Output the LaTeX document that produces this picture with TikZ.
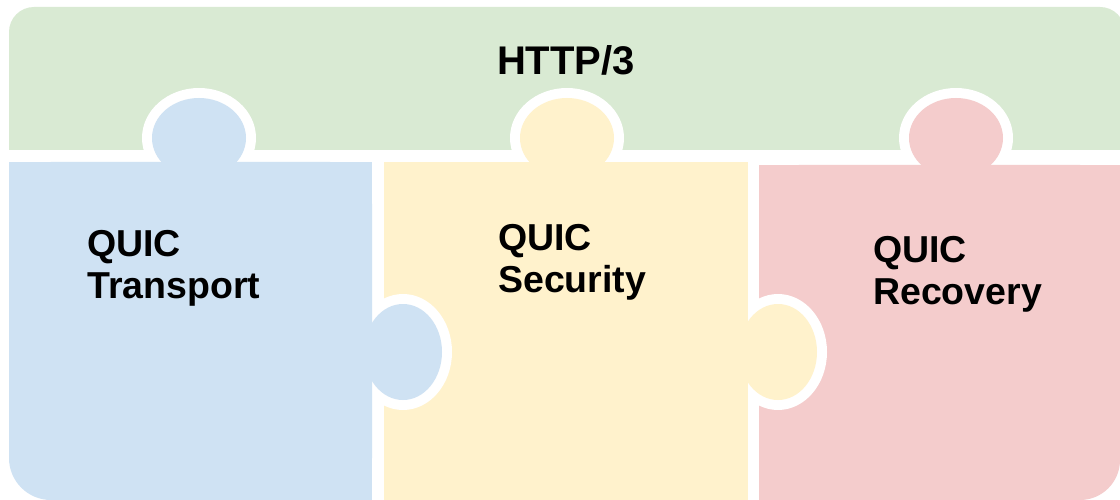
\documentclass[tikz,border=0pt]{standalone}
\usepackage{fontspec}
\setmainfont{Liberation Sans}
\definecolor{httpgreen}{HTML}{D9EAD3}
\definecolor{transblue}{HTML}{CFE2F3}
\definecolor{secyellow}{HTML}{FFF2CC}
\definecolor{recred}{HTML}{F4CCCC}
\tikzset{
  title/.style={font=\bfseries\fontsize{40}{44}\selectfont, inner sep=0pt, text=black},
  piecelabel/.style={font=\bfseries\fontsize{37.5}{42}\selectfont, align=left, inner sep=0pt, text=black, anchor=base west},
  ring/.style={fill=white},
}
\begin{document}
\begin{tikzpicture}[x=1pt,y=-1pt]
\useasboundingbox (0,0) rectangle (1120,500);
\fill[white] (0,0) rectangle (1120,500);

% HTTP/3 band with rounded top corners
\fill[httpgreen, rounded corners=25pt] (9,7) rectangle (1125,150);
\fill[httpgreen] (9,100) rectangle (1125,150);

% white rims around the top tabs
\fill[ring] (199,138) ellipse [x radius=57, y radius=50];
\fill[ring] (567,138) ellipse [x radius=57, y radius=50];
\fill[ring] (956,138) ellipse [x radius=57, y radius=50];

% QUIC Recovery piece
\fill[recred, rounded corners=40pt] (759,165) rectangle (1120,500);
\fill[recred] (759,165) rectangle (1120,400);
\fill[recred] (759,165) rectangle (1000,500);
\fill[recred] (956,138) ellipse [x radius=47, y radius=40];

% QUIC Security piece
\fill[ring] (778,352) ellipse [x radius=49, y radius=58];
\fill[secyellow] (384,162) rectangle (748,500);
\fill[secyellow] (567,138) ellipse [x radius=47, y radius=40];
\fill[secyellow] (778,352) ellipse [x radius=39, y radius=48];

% QUIC Transport piece
\fill[ring] (403,352) ellipse [x radius=49, y radius=58];
\fill[transblue, rounded corners=42pt] (9,162) rectangle (372,500);
\fill[transblue] (9,162) rectangle (372,400);
\fill[transblue] (150,162) rectangle (372,500);
\fill[transblue] (199,138) ellipse [x radius=47, y radius=40];
\fill[transblue] (403,352) ellipse [x radius=39, y radius=48];

% labels (anchored at the baseline of the second line)
\node[title, anchor=base] (http) at (566,75) {HTTP/3};
\node[piecelabel] (transport) at (87,298) {QUIC\\Transport};
\node[piecelabel] (security) at (498,292) {QUIC\\Security};
\node[piecelabel] (recovery) at (873,304) {QUIC\\Recovery};
\end{tikzpicture}
\end{document}
